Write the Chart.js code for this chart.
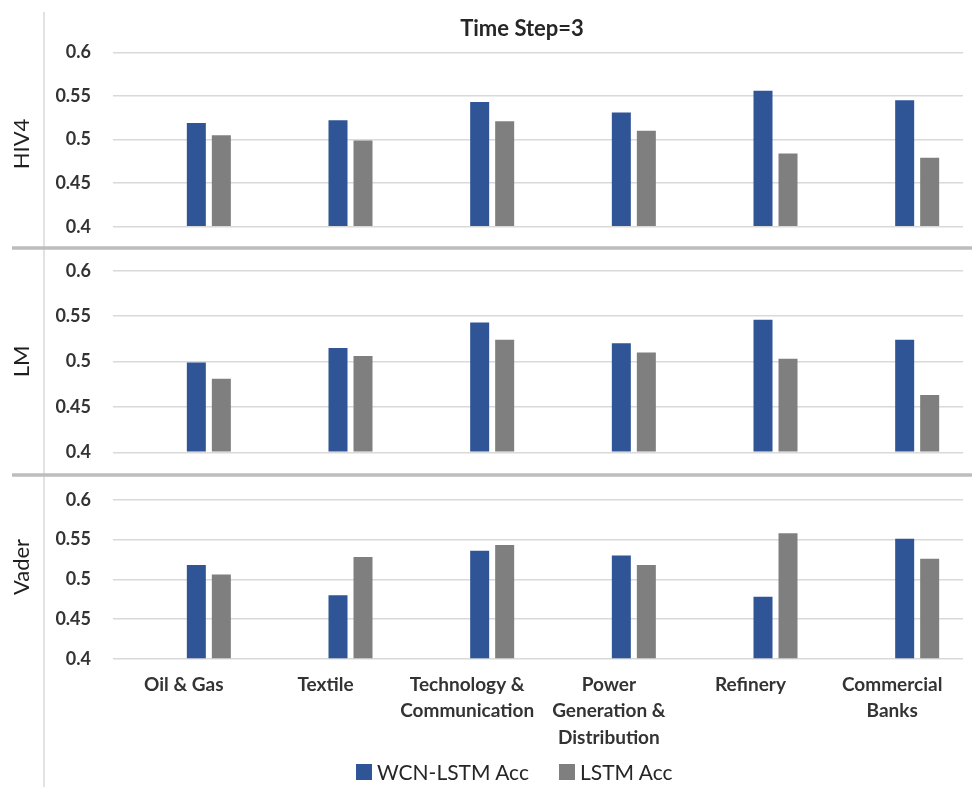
<!DOCTYPE html>
<html>
<head>
<meta charset="utf-8">
<title>Time Step=3</title>
<script src="https://cdn.jsdelivr.net/npm/chart.js@4.4.1/dist/chart.umd.min.js"></script>
<style>
    html, body { margin: 0; padding: 0; background: #fff; overflow: hidden; }
    #wrap { position: relative; width: 972px; height: 787px; }
    #chart { position: absolute; left: 0; top: 0; }
    #title {
        position: absolute; top: 15px; left: 372px; width: 300px; text-align: center;
        font: bold 22px Lato, sans-serif; line-height: 26px; color: #262626;
    }
    #legend {
        position: absolute; top: 760px; left: 356px; display: flex; align-items: center;
        font: 21px Lato, sans-serif; line-height: 24px; color: #262626;
    }
    .swatch { display: inline-block; width: 16px; height: 16px; margin-right: 5px; }
    .item { display: flex; align-items: center; margin-right: 30px; }
</style>
</head>
<body>
<div id="wrap">
    <canvas id="chart" width="972" height="787"></canvas>
    <div id="title">Time Step=3</div>
    <div id="legend"></div>
</div>
<script>
const categories = ['Oil & Gas', 'Textile', ['Technology &', 'Communication'], ['Power', 'Generation &', 'Distribution'], 'Refinery', ['Commercial', 'Banks']];
const seriesNames = ['WCN-LSTM Acc', 'LSTM Acc'];
const seriesColors = ['#2f5597', '#7f7f7f'];

const hiv4Wcn = [0.519, 0.522, 0.543, 0.531, 0.556, 0.545];
const hiv4Lstm = [0.505, 0.499, 0.521, 0.510, 0.484, 0.479];
const lmWcn = [0.499, 0.515, 0.543, 0.520, 0.546, 0.524];
const lmLstm = [0.481, 0.506, 0.524, 0.510, 0.503, 0.463];
const vaderWcn = [0.518, 0.480, 0.536, 0.530, 0.478, 0.551];
const vaderLstm = [0.506, 0.528, 0.543, 0.518, 0.558, 0.526];

const tickValues = [0.4, 0.45, 0.5, 0.55, 0.6];
const tickLabels = ['0.4', '0.45', '0.5', '0.55', '0.6'];

Chart.defaults.font.family = 'Lato, sans-serif';

// one y axis per panel, stacked on top of each other
function panelAxis(title, min, max, weight) {
    return {
        type: 'linear',
        position: 'left',
        stack: 'panels',
        stackWeight: weight,
        stacked: false,
        min: min,
        max: max,
        afterBuildTicks: (s) => { s.ticks = tickValues.map(v => ({ value: v })); },
        afterFit: (s) => { s.width = 113; },
        ticks: {
            padding: 22,
            color: '#333333',
            font: { size: 18, weight: 'bold' },
            callback: (v, i) => tickLabels[i]
        },
        grid: { color: '#d9d9d9', lineWidth: 1.5, drawTicks: false },
        border: { display: false },
        title: { display: true, text: title, color: '#1f1f1f', font: { size: 22 }, padding: { top: 9, bottom: 0 } }
    };
}

function barSet(label, data, stack, axis, color) {
    return { label: label, data: data, stack: stack, yAxisID: axis, backgroundColor: color };
}

// thin frame line on the left and the grey bars between panels
const panelLines = {
    id: 'panelLines',
    afterDraw(chart) {
        const ctx = chart.ctx;
        ctx.save();
        ctx.strokeStyle = '#d9d9d9';
        ctx.lineWidth = 1.5;
        ctx.beginPath();
        ctx.moveTo(44, 12);
        ctx.lineTo(44, chart.height);
        ctx.stroke();
        ctx.strokeStyle = '#bdbdbd';
        ctx.lineWidth = 3.5;
        [chart.scales.yHIV4.bottom, chart.scales.yLM.bottom].forEach(y => {
            ctx.beginPath();
            ctx.moveTo(12, y);
            ctx.lineTo(chart.width, y);
            ctx.stroke();
        });
        ctx.restore();
    }
};

const ctx = document.getElementById('chart').getContext('2d');
const chart = new Chart(ctx, {
    type: 'bar',
    data: {
        labels: categories,
        datasets: [
            // two empty slots, the original chart keeps room for them
            { label: '', data: [], stack: 'g1', yAxisID: 'yHIV4' },
            { label: '', data: [], stack: 'g2', yAxisID: 'yHIV4' },
            barSet(seriesNames[0], hiv4Wcn, 'g3', 'yHIV4', seriesColors[0]),
            barSet(seriesNames[1], hiv4Lstm, 'g4', 'yHIV4', seriesColors[1]),
            barSet(seriesNames[0], lmWcn, 'g3', 'yLM', seriesColors[0]),
            barSet(seriesNames[1], lmLstm, 'g4', 'yLM', seriesColors[1]),
            barSet(seriesNames[0], vaderWcn, 'g3', 'yVader', seriesColors[0]),
            barSet(seriesNames[1], vaderLstm, 'g4', 'yVader', seriesColors[1])
        ]
    },
    options: {
        responsive: false,
        animation: false,
        layout: { padding: { top: 40, right: 9, left: 0, bottom: 0 } },
        datasets: {
            bar: { categoryPercentage: 0.706, barPercentage: 0.76, base: 0.4 }
        },
        plugins: {
            legend: { display: false },
            title: { display: false },
            tooltip: { enabled: false }
        },
        scales: {
            x: {
                ticks: {
                    color: '#333333',
                    font: { size: 19, weight: 'bold', lineHeight: 1.38 },
                    padding: 13,
                    maxRotation: 0,
                    autoSkip: false
                },
                grid: { display: false, drawTicks: false },
                border: { display: false },
                afterFit: (s) => { s.height = 128; }
            },
            yVader: panelAxis('Vader', 0.4, 0.631, 184),
            yLM: panelAxis('LM', 0.375, 0.625, 227),
            yHIV4: panelAxis('HIV4', 0.3756, 0.6141, 208)
        }
    },
    plugins: [panelLines]
});

const legendBox = document.getElementById('legend');
seriesNames.forEach((name, i) => {
    const item = document.createElement('span');
    item.className = 'item';
    const sw = document.createElement('span');
    sw.className = 'swatch';
    sw.style.background = seriesColors[i];
    item.appendChild(sw);
    item.appendChild(document.createTextNode(name));
    legendBox.appendChild(item);
});
</script>
</body>
</html>
